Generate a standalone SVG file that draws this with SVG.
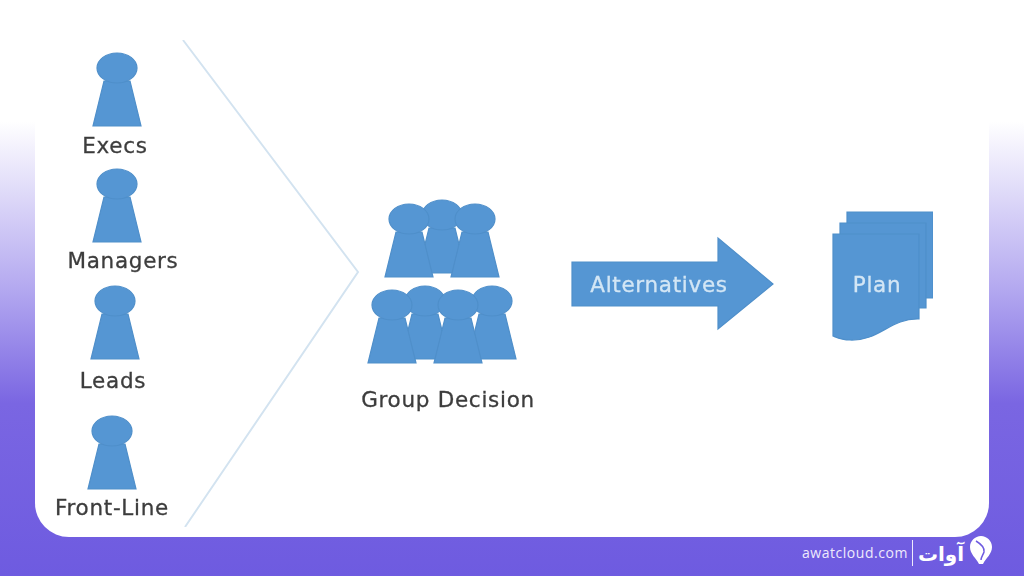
<svg xmlns="http://www.w3.org/2000/svg" width="1024" height="576" viewBox="0 0 1024 576">
<style>
.p{fill:#5596d3;stroke:#4f8fca;stroke-width:1.2}
.l{font-family:"DejaVu Sans",sans-serif;font-size:21.500px;letter-spacing:.7px;fill:#3c3c3c;stroke:#3c3c3c;stroke-width:.3;text-anchor:middle}
.w{font-family:"DejaVu Sans",sans-serif;font-size:21.500px;letter-spacing:.7px;fill:#d3e6f5;stroke:#d3e6f5;stroke-width:.3;text-anchor:middle}
.c{fill:none;stroke:#d3e3f0;stroke-width:2}
</style>
<defs>
<linearGradient id="bg" x1="0" y1="0" x2="0" y2="1"><stop offset="0.21" stop-color="#fff"/><stop offset="0.5" stop-color="#b4a9f0"/><stop offset="0.7" stop-color="#7a66e2"/><stop offset="1" stop-color="#6e5be0"/></linearGradient>
<filter id="soft" x="0" y="0" width="1" height="1"><feGaussianBlur stdDeviation="0.5"/></filter>
<g id="person"><path class="p" d="M-13 13H13L24 58H-24Z"/><ellipse class="p" cx="0" cy="0" rx="20" ry="15"/></g>
</defs>
<rect width="1024" height="576" fill="url(#bg)"/>
<path d="M35 0H989V503a34 34 0 0 1-34 34H69a34 34 0 0 1-34-34Z" fill="#fff"/>
<g filter="url(#soft)">
<g id="connectors"><path class="c" d="M183 40L358 272L185 527"/></g>
<g id="execs"><use href="#person" x="117" y="68"/><text class="l" x="115" y="153">Execs</text></g>
<g id="managers"><use href="#person" x="117" y="184"/><text class="l" x="123" y="268">Managers</text></g>
<g id="leads"><use href="#person" x="115" y="301"/><text class="l" x="113" y="388">Leads</text></g>
<g id="front-line"><use href="#person" x="112" y="431"/><text class="l" x="112" y="515">Front-Line</text></g>
<g id="group-decision">
<use href="#person" x="442" y="215"/>
<use href="#person" x="409" y="219"/>
<use href="#person" x="475" y="219"/>
<use href="#person" x="492" y="301"/>
<use href="#person" x="425" y="301"/>
<use href="#person" x="392" y="305"/>
<use href="#person" x="458" y="305"/>
<text class="l" x="448" y="407">Group Decision</text>
</g>
<g id="alternatives"><path class="p" d="M572 262H718V238L773 284L718 329V306H572Z"/><text class="w" x="659" y="292">Alternatives</text></g>
<g id="plan">
<path class="p" d="M847 212H933V298H847Z"/>
<path class="p" d="M840 223H926V308H840Z"/>
<path class="p" d="M833 234H919V319C890 318 880 341 850 340C842 340 838 338 833 336Z"/>
<text class="w" x="877" y="292">Plan</text>
</g>
</g>
<g id="brand">
<text x="855" y="558" font-family="'Open Sans','DejaVu Sans',sans-serif" font-size="14" letter-spacing=".55" fill="#eeeafc" text-anchor="middle">awatcloud.com</text>
<path d="M912.500 540V566" stroke="#eeeafc" stroke-width="1"/>
<text x="941" y="561" font-family="'DejaVu Sans',sans-serif" font-size="20" font-weight="700" fill="#fff" text-anchor="middle" direction="rtl">آوات</text>
<path d="M981 536c-6 0-11 5-11 11c0 7 6 11 9 17h4c3-6 9-10 9-17c0-6-5-11-11-11Z" fill="#fff"/>
<path d="M976 541c5 3 9 6 8 11c-1 3-3 5-3 8" fill="none" stroke="#6e5be0" stroke-width="1.500"/>
</g>
</svg>
